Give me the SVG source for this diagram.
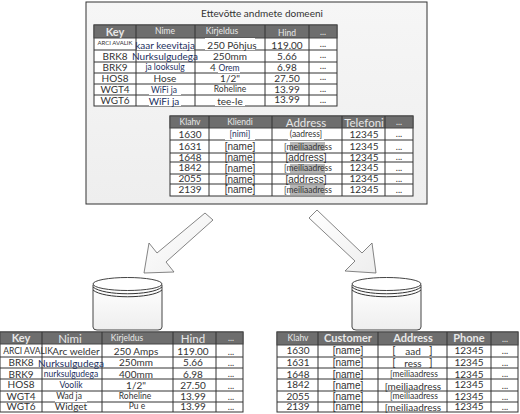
<svg xmlns="http://www.w3.org/2000/svg" width="520" height="414" viewBox="0 0 520 414">
<style>
text{font-family:Lato,"Liberation Sans",Arial,sans-serif;text-anchor:middle;fill:#333}
.c{font-size:10px}.s{font-size:8.500px}.m{font-size:10px}
.n{font-family:"Liberation Sans",Arial,sans-serif;font-size:10px}
.d{font-size:9px;transform:translateY(-2px)}
.h{font-size:11px;fill:#e8e8e8;font-weight:bold}.hs{font-size:8.500px;fill:#e8e8e8}.hl{font-size:11.500px;fill:#e8e8e8}
.b{fill:#1c3060}
.g{fill:#fff;stroke:#333;stroke-width:1}
.hd{fill:#6e6e6e;stroke:#444;stroke-width:1}
.ln{stroke:#333;stroke-width:1;fill:none}
.p{fill:#fff}.q{fill:#b5b5b5}
.ar{fill:url(#gr);stroke:#666;stroke-width:.8}
.cy{fill:url(#gr2);stroke:#444;stroke-width:1}
</style>
<defs>
<linearGradient id="gr" x1="0" y1="0" x2="1" y2="1"><stop offset="0" stop-color="#fff"/><stop offset="1" stop-color="#eee"/></linearGradient>
<linearGradient id="gr2" x1="0" y1="0" x2="0" y2="1"><stop offset="0" stop-color="#fff"/><stop offset="1" stop-color="#eee"/></linearGradient>
<linearGradient id="gr3" x1="0" y1="0" x2="0" y2="1"><stop offset="0" stop-color="#f6f6f6"/><stop offset="1" stop-color="#eee"/></linearGradient>
<g id="cyl">
<path class="cy" d="M0 8V50Q0 53 4 53H65Q69 53 69 50V8Z"/>
<path class="ln" d="M0 13C10 22 59 22 69 13M0 10C10 19 59 19 69 10" stroke="#555"/>
<ellipse cx="34.500" cy="7" rx="34.500" ry="6.500" fill="#fff" stroke="#444"/>
</g>
</defs>

<g id="domain">
<rect x="86" y="2" width="341" height="202" fill="url(#gr3)" stroke="#333"/>
<text x="262" y="17" class="m">Ettevõtte andmete domeeni</text>
</g>

<g id="table-products-domain">
<rect x="94" y="25" width="243" height="81" class="g"/>
<rect x="94" y="25" width="243" height="13" class="hd"/>
<path class="ln" d="M94 50H337M94 62H337M94 73H337M94 84H337M94 95H337M136 25V106M195 25V106M265 25V106M309 25V106"/>
<text x="115" y="36" class="h">Key</text><text x="165" y="34" class="hs">Nime</text><text x="222" y="34" class="hs">Kirjeldus</text><text x="287" y="36" class="hs">Hind</text><text x="323" y="35" class="hs">...</text>
<rect x="137" y="41" width="57" height="9" class="p"/><rect x="205" y="38" width="50" height="12" class="p"/>
<text x="115" y="45" font-size="6">ARCI AVALIK</text><text x="165" y="49" class="m b">kaar keevitaja</text><text x="232" y="49" class="c">250 Põhjus</text><text x="287" y="49" class="c">119.00</text><text x="323" y="49" class="d">...</text>
<text x="115" y="60" class="c">BRK8</text><text x="165" y="60" class="m b">Nurksulgudega</text><text x="230" y="60" class="c">250mm</text><text x="287" y="60" class="c">5.66</text><text x="323" y="60" class="d">...</text>
<text x="115" y="71" class="c">BRK9</text><text x="165" y="70" class="s b">ja looksulg</text><text x="213" y="71" class="c">4</text><rect x="218" y="65" width="22" height="8" class="p"/><text x="229" y="71" class="s b">Orem</text><text x="287" y="71" class="c">6.98</text><text x="323" y="71" class="d">...</text>
<text x="115" y="82" class="c">HOS8</text><text x="165" y="82" class="m">Hose</text><text x="230" y="82" class="c">1/2"</text><text x="287" y="82" class="c">27.50</text><text x="323" y="82" class="d">...</text>
<text x="115" y="93" class="c">WGT4</text><rect x="149" y="85" width="32" height="10" class="p"/><text x="164" y="93" class="s b">WiFi ja</text><rect x="212" y="85" width="36" height="9" class="p"/><text x="230" y="92" class="s">Roheline</text><text x="287" y="93" class="c">13.99</text><text x="323" y="94" class="d">...</text>
<text x="115" y="104" class="c">WGT6</text><rect x="149" y="96" width="32" height="10" class="p"/><text x="164" y="105" class="m b">WiFi ja</text><rect x="215" y="96" width="30" height="10" class="p"/><text x="230" y="105" class="m">tee-le</text><text x="287" y="103" class="c">13.99</text><text x="323" y="105" class="d">...</text>
</g>

<g id="table-customers-domain">
<rect x="170" y="116" width="243" height="80" class="g"/>
<rect x="170" y="116" width="243" height="12" class="hd"/>
<path class="ln" d="M170 140H413M170 153H413M170 162H413M170 174H413M170 184H413M209 116V196M272 116V196M342 116V196M385 116V196"/>
<text x="190" y="125" class="hs">Klahv</text><text x="240" y="125" class="hs">Kliendi</text><text x="306" y="127" class="hl">Address</text><text x="364" y="127" class="hl">Telefoni</text><text x="399" y="125" class="hs">...</text>
<text x="190" y="138" class="c">1630</text><rect x="225" y="129" width="30" height="11" class="p"/><text x="240" y="137" class="s b">[nimi]</text><rect x="288" y="129" width="36" height="11" class="p"/><text x="306" y="137" class="s">(aadress]</text><text x="364" y="138" class="c">12345</text><text x="399" y="139" class="d">...</text>
<text x="190" y="150" class="c">1631</text><text x="240" y="150" class="n">[name]</text><rect x="290" y="142" width="35" height="9" class="q"/><text x="308" y="150" class="s">[meiliaadress</text><text x="364" y="150" class="c">12345</text><text x="399" y="152" class="d">...</text>
<text x="190" y="161" class="c">1648</text><text x="240" y="161" class="n">[name]</text><text x="306" y="161" class="n">[address]</text><text x="364" y="161" class="c">12345</text><text x="399" y="162" class="d">...</text>
<text x="190" y="171" class="c">1842</text><text x="240" y="172" class="n">[name]</text><rect x="290" y="164" width="35" height="9" class="q"/><text x="308" y="171" class="s">[meiliaadress</text><text x="364" y="171" class="c">12345</text><text x="399" y="173" class="d">...</text>
<text x="190" y="182" class="c">2055</text><text x="240" y="183" class="n">[name]</text><text x="306" y="183" class="n">[address]</text><text x="364" y="182" class="c">12345</text><text x="399" y="184" class="d">...</text>
<text x="190" y="193" class="c">2139</text><text x="240" y="193" class="n">[name]</text><rect x="290" y="185" width="35" height="10" class="q"/><text x="308" y="193" class="s">[meiliaadress</text><text x="364" y="193" class="c">12345</text><text x="399" y="195" class="d">...</text>
</g>

<g id="connectors">
<path class="ar" d="M205 213L213 220L166 262L174 272L144 273L149 243L157 253Z"/>
<path class="ar" d="M317 210L309 218L355 261L345 271L376 273L372 243L362 253Z"/>
</g>

<g id="db-left"><use href="#cyl" x="93" y="277"/></g>
<g id="db-right"><use href="#cyl" x="352" y="277"/></g>

<g id="table-products-left">
<rect x="0" y="332" width="243" height="80" class="g"/>
<rect x="0" y="332" width="243" height="12" class="hd"/>
<path class="ln" d="M0 357H243M0 368H243M0 379H243M0 391H243M0 402H243M42 332V412M102 332V412M173 332V412M216 332V412"/>
<text x="21" y="342" class="h">Key</text><text x="70" y="343" class="hl">Nimi</text><text x="127" y="341" class="hs">Kirjeldus</text><text x="193" y="343" class="hl">Hind</text><text x="231" y="341" class="hs">...</text>
<text x="28" y="354" class="s">ARCI AVALIK</text><text x="76" y="355" class="c">Arc welder</text><text x="136" y="355" class="c">250 Amps</text><text x="193" y="355" class="c">119.00</text><text x="231" y="357" class="d">...</text>
<text x="21" y="366" class="c">BRK8</text><text x="71" y="367" class="m b">Nurksulgudega</text><text x="136" y="366" class="c">250mm</text><text x="193" y="366" class="c">5.66</text><text x="231" y="368" class="d">...</text>
<text x="21" y="378" class="c">BRK9</text><text x="71" y="377" class="s b">nurksulgudega</text><text x="136" y="378" class="c">400mm</text><text x="193" y="378" class="c">6.98</text><text x="231" y="379" class="d">...</text>
<text x="21" y="388" class="c">HOS8</text><text x="71" y="388" class="s b">Voolik</text><text x="136" y="389" class="c">1/2"</text><text x="193" y="389" class="c">27.50</text><text x="231" y="391" class="d">...</text>
<text x="21" y="400" class="c">WGT4</text><rect x="55" y="392" width="32" height="10" class="p"/><text x="69" y="399" class="s">Wad ja</text><rect x="118" y="392" width="35" height="9" class="p"/><text x="135" y="399" class="s">Roheline</text><text x="193" y="400" class="c">13.99</text><text x="231" y="402" class="d">...</text>
<text x="21" y="410" class="c">WGT6</text><rect x="55" y="403" width="32" height="8" class="p"/><text x="71" y="410" class="c">Widget</text><rect x="122" y="403" width="24" height="8" class="p"/><text x="137" y="409" class="s">Pu e</text><text x="193" y="410" class="c">13.99</text><text x="231" y="412" class="d">...</text>
</g>

<g id="table-customers-right">
<rect x="277" y="332" width="241" height="80" class="g"/>
<rect x="277" y="332" width="241" height="13" class="hd"/>
<path class="ln" d="M277 357H518M277 368H518M277 379H518M277 391H518M277 402H518M318 332V412M378 332V412M447 332V412M491 332V412"/>
<text x="298" y="341" class="hs">Klahv</text><text x="348" y="342" class="h">Customer</text><text x="413" y="342" class="h">Address</text><text x="469" y="342" class="h">Phone</text><text x="505" y="342" class="hs">...</text>
<text x="298" y="354" class="c">1630</text><text x="348" y="354" class="n">[name]</text><text x="394" y="354" class="n">[</text><text x="413" y="355" class="m">aad</text><text x="431" y="354" class="n">]</text><text x="469" y="354" class="c">12345</text><text x="505" y="356" class="d">...</text>
<text x="298" y="366" class="c">1631</text><text x="348" y="366" class="n">[name]</text><text x="394" y="366" class="n">[</text><text x="413" y="367" class="m">ress</text><text x="431" y="366" class="n">]</text><text x="469" y="366" class="c">12345</text><text x="505" y="368" class="d">...</text>
<text x="298" y="378" class="c">1648</text><text x="348" y="378" class="n">[name]</text><text x="414" y="377" class="s">[meiliaadress</text><text x="469" y="378" class="c">12345</text><text x="505" y="379" class="d">...</text>
<text x="298" y="388" class="c">1842</text><text x="348" y="389" class="n">[name]</text><text x="413" y="390" class="c">[meiliaadress</text><text x="469" y="388" class="c">12345</text><text x="505" y="391" class="d">...</text>
<text x="298" y="400" class="c">2055</text><text x="348" y="400" class="n">[name]</text><text x="414" y="399" class="s">[meiliaadress</text><text x="469" y="400" class="c">12345</text><text x="505" y="402" class="d">...</text>
<text x="298" y="410" class="c">2139</text><text x="348" y="410" class="n">[name]</text><text x="413" y="411" class="c">[meiliaadress</text><text x="469" y="410" class="c">12345</text><text x="505" y="412" class="d">...</text>
</g>
</svg>
